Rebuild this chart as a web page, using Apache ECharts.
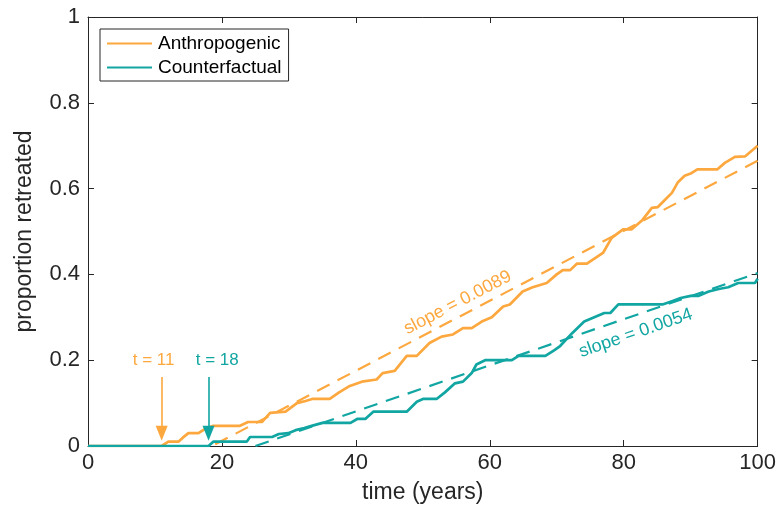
<!DOCTYPE html>
<html>
<head>
<meta charset="utf-8">
<script src="https://cdn.jsdelivr.net/npm/echarts@6/dist/echarts.min.js"></script>
<style>html,body{margin:0;padding:0;background:#fff}#c{width:779px;height:513px}</style>
</head>
<body>
<div id="c"></div>
<script>
// ---- data ----
const anthroYears  = [0,11,12,13.5,14.2,15,16.5,17.5,18.7,22.7,23.9,26,27.2,29.5,31.2,32.5,33.6,36.1,37.5,39.1,40.9,43.1,44,45.8,47.6,49.1,51,52.8,54.5,56,57.3,58.8,60.3,62,63,64.9,66.4,68.5,70,70.9,72,73,74.5,76.9,78.2,79.9,81.2,82.8,84.2,85.1,86.1,87.2,88.1,89.1,90.1,91,94,95.1,96.6,98.1,100];
const anthroValues = [0,0,0.01,0.01,0.02,0.03,0.03,0.04,0.047,0.047,0.056,0.056,0.077,0.08,0.10,0.105,0.11,0.11,0.125,0.14,0.15,0.155,0.17,0.175,0.21,0.21,0.24,0.255,0.26,0.275,0.275,0.29,0.30,0.325,0.33,0.36,0.37,0.38,0.40,0.41,0.41,0.425,0.425,0.45,0.485,0.505,0.505,0.527,0.555,0.557,0.573,0.59,0.615,0.63,0.636,0.645,0.645,0.66,0.674,0.675,0.70];
const counterYears  = [0,18,18.7,23.7,24.2,27.5,28.5,29.9,31,32.3,33.4,35,39.2,40.2,41.4,42.6,47.6,49.1,50.1,52.1,53.3,54.8,56,57.3,58,59.3,63.3,64.3,68.3,69.6,70.5,72.3,74.1,75.6,77.1,78,79.2,85.8,87.3,88.5,90,91.2,92.7,94.2,95.6,97.1,99.6,100];
const counterValues = [0,0,0.01,0.01,0.021,0.021,0.028,0.03,0.037,0.042,0.047,0.054,0.054,0.063,0.063,0.08,0.08,0.103,0.11,0.11,0.125,0.146,0.15,0.17,0.19,0.2,0.2,0.21,0.21,0.223,0.233,0.263,0.29,0.30,0.31,0.31,0.33,0.33,0.338,0.345,0.35,0.35,0.36,0.366,0.37,0.38,0.38,0.39];
const anthroFitYears = [19, 100];
const anthroFitValues = [0.004, 0.665];
const counterFitYears = [25, 100];
const counterFitValues = [0, 0.403];
const onsetYears = [11, 18];
const onsetLabels = ['t = 11', 't = 18'];
const onsetLabelAt = [[9.8, 0.2], [19.3, 0.2]];
const slopeLabels = ['slope = 0.0089', 'slope = 0.0054'];
const slopeLabelAt = [[55.2, 0.334], [81.8, 0.263]];
const seriesNames = ['Anthropogenic', 'Counterfactual'];
const xTicks = [0, 20, 40, 60, 80, 100];
const yTicks = [0, 0.2, 0.4, 0.6, 0.8, 1];

const ORANGE = '#FDA83F';
const TEAL = '#12A6A3';
const AX = '#262626';
const FONT = 'Liberation Sans, Arial, sans-serif';

const pairs = (xs, ys) => xs.map((x, i) => [x, ys[i]]);

const chart = echarts.init(document.getElementById('c'), null, {renderer: 'canvas'});

function axisCommon() {
  return {
    axisLine: {show: true, onZero: false, lineStyle: {color: AX, width: 1}},
    axisTick: {show: true, inside: true, length: 6, lineStyle: {color: AX}},
    splitLine: {show: false}
  };
}

function arrowLine(year, color) {
  return {
    silent: true,
    symbol: ['none', 'triangle'],
    symbolSize: [12, 15],
    symbolRotate: 180,
    lineStyle: {color: color, width: 1.6, type: 'solid'},
    label: {show: false},
    data: [[{coord: [year, 0.161]}, {coord: [year, 0.03]}]]
  };
}

const option = {
  animation: false,
  backgroundColor: '#fff',
  grid: {left: 88, right: 21, top: 17, bottom: 67, containLabel: false},
  legend: {
    left: 100, top: 29, orient: 'vertical',
    data: seriesNames,
    itemWidth: 45, itemHeight: 14, itemGap: 5,
    padding: [5, 7, 4, 7],
    borderColor: AX, borderWidth: 1, backgroundColor: '#fff',
    textStyle: {fontSize: 19, color: '#000', fontFamily: FONT, padding: [0, 0, 0, 1]},
    icon: 'path://M0,6 L45,6 L45,8 L0,8 Z'
  },
  xAxis: [
    Object.assign(axisCommon(), {
      type: 'value', min: 0, max: 100, interval: 20, position: 'bottom',
      name: 'time (years)', nameLocation: 'middle', nameGap: 35,
      nameTextStyle: {fontSize: 23, color: AX, fontFamily: FONT},
      axisLabel: {fontSize: 22, color: AX, fontFamily: FONT, margin: 6,
        formatter: v => xTicks.includes(v) ? String(v) : ''}
    }),
    Object.assign(axisCommon(), {
      type: 'value', min: 0, max: 100, interval: 20, position: 'top',
      axisLabel: {show: false}
    })
  ],
  yAxis: [
    Object.assign(axisCommon(), {
      type: 'value', min: 0, max: 1, interval: 0.2, position: 'left',
      name: 'proportion retreated', nameLocation: 'middle', nameGap: 52, nameRotate: 90,
      nameTextStyle: {fontSize: 23, color: AX, fontFamily: FONT},
      axisLabel: {fontSize: 22, color: AX, fontFamily: FONT, margin: 8,
        formatter: v => { const t = yTicks.find(k => Math.abs(k - v) < 1e-9); return t === undefined ? '' : String(t); }}
    }),
    Object.assign(axisCommon(), {
      type: 'value', min: 0, max: 1, interval: 0.2, position: 'right',
      axisLabel: {show: false}
    })
  ],
  series: [
    {
      name: seriesNames[0], type: 'line', symbol: 'none', z: 3,
      data: pairs(anthroYears, anthroValues),
      lineStyle: {color: ORANGE, width: 2.7}, itemStyle: {color: ORANGE},
      markLine: arrowLine(onsetYears[0], ORANGE)
    },
    {
      name: seriesNames[1], type: 'line', symbol: 'none', z: 3,
      data: pairs(counterYears, counterValues),
      lineStyle: {color: TEAL, width: 2.7}, itemStyle: {color: TEAL},
      markLine: arrowLine(onsetYears[1], TEAL)
    },
    {
      name: 'anthroFit', type: 'line', symbol: 'none', z: 2,
      data: pairs(anthroFitYears, anthroFitValues),
      lineStyle: {color: ORANGE, width: 2.2, type: [14, 9]}
    },
    {
      name: 'counterFit', type: 'line', symbol: 'none', z: 2,
      data: pairs(counterFitYears, counterFitValues),
      lineStyle: {color: TEAL, width: 2.2, type: [14, 9]}
    }
  ]
};
chart.setOption(option);

function angleOf(xs, ys) {
  const a = chart.convertToPixel({gridIndex: 0}, [xs[0], ys[0]]);
  const b = chart.convertToPixel({gridIndex: 0}, [xs[1], ys[1]]);
  return Math.atan2(a[1] - b[1], b[0] - a[0]);
}
const angs = [angleOf(anthroFitYears, anthroFitValues), angleOf(counterFitYears, counterFitValues)];
const colors = [ORANGE, TEAL];
const graphics = [];
slopeLabels.forEach((txt, i) => {
  const p = chart.convertToPixel({gridIndex: 0}, slopeLabelAt[i]);
  graphics.push({
    type: 'text', x: p[0], y: p[1], rotation: angs[i], z: 10,
    style: {text: txt, fill: colors[i], font: '18px Liberation Sans, Arial, sans-serif', align: 'center', verticalAlign: 'middle'}
  });
});
onsetLabels.forEach((txt, i) => {
  const p = chart.convertToPixel({gridIndex: 0}, onsetLabelAt[i]);
  graphics.push({
    type: 'text', x: p[0], y: p[1], z: 10,
    style: {text: txt, fill: colors[i], font: '17px Liberation Sans, Arial, sans-serif', align: 'center', verticalAlign: 'middle'}
  });
});
chart.setOption({graphic: graphics});
</script>
</body>
</html>
